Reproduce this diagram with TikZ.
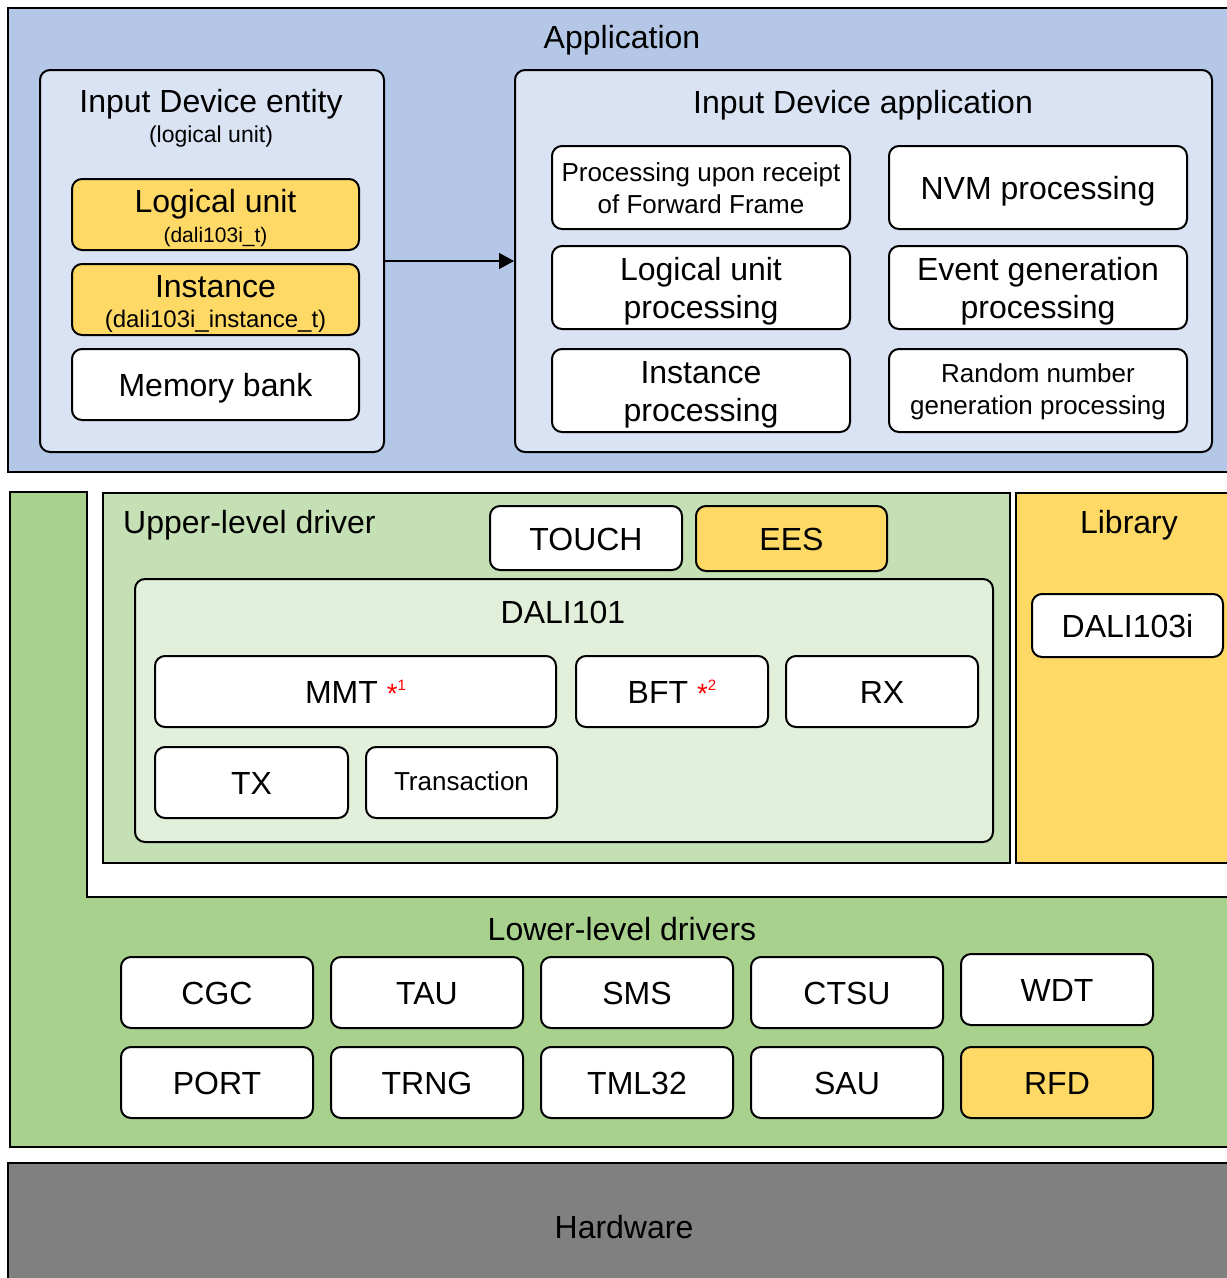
\documentclass[tikz,border=0pt]{standalone}
\usepackage{fontspec}
\setmainfont{Liberation Sans}
\usepackage{xcolor}
\usetikzlibrary{positioning,arrows.meta}
\definecolor{appblue}{HTML}{B4C7E7}
\definecolor{paleblue}{HTML}{DAE3F3}
\definecolor{libyellow}{HTML}{FFD966}
\definecolor{drvgreen}{HTML}{A9D18E}
\definecolor{uppergreen}{HTML}{C5E0B4}
\definecolor{daligreen}{HTML}{E2EFDA}
\definecolor{hwgrey}{HTML}{808080}
\newcommand{\lbl}{\fontsize{32}{38}\selectfont}
\newcommand{\sml}{\fontsize{26}{32}\selectfont}
\newcommand{\st}{\rule[-7pt]{0pt}{38pt}}
\newcommand{\sst}{\rule[-6pt]{0pt}{27pt}}
\newcommand{\note}[1]{\textcolor{red}{\fontsize{28}{28}\selectfont *\raisebox{13pt}{\fontsize{15}{15}\selectfont #1}}}

\tikzset{
  layer/.style={draw=black,line width=2.2pt,inner sep=0pt},
  group/.style={draw=black,line width=2pt,rounded corners=10pt,inner sep=0pt},
  module/.style={draw=black,line width=2pt,rounded corners=10pt,fill=white,
    align=center,inner sep=0pt,font=\lbl},
  title/.style={font=\lbl,inner sep=0pt}
}

\begin{document}
\begin{tikzpicture}[x=1pt,y=-1pt]
  \useasboundingbox (0,0) rectangle (1227,1278);
  \clip (0,0) rectangle (1227,1278);

  % Top: Application layer
  \node[layer,fill=appblue,minimum width=1232pt,minimum height=464pt] (applayer) at (624,240) {};
  \node[title] (apptitle) at (622,40) {Application};

  % Input Device entity
  \node[group,fill=paleblue,minimum width=344pt,minimum height=382pt] (entity) at (212,261) {};
  \node[title] (entitytitle) at (211,104) {Input Device entity};
  \node[inner sep=0pt,font=\fontsize{23}{26}\selectfont] (entitysub) at (211,137) {(logical unit)};
  \node[module,fill=libyellow,minimum width=287pt,minimum height=71pt] (lunit) at (215.5,214.5)
    {\st Logical unit\\[-8pt]{\fontsize{21}{24}\selectfont (dali103i\_t)}};
  \node[module,fill=libyellow,minimum width=287pt,minimum height=71pt] (inst) at (215.5,299.5)
    {\st Instance\\[-8pt]{\fontsize{24}{26}\selectfont (dali103i\_instance\_t)}};
  \node[module,minimum width=287pt,minimum height=71pt] (membank) at (215.5,384.5) {\st Memory bank};

  % Input Device application
  \node[group,fill=paleblue,minimum width=697pt,minimum height=382pt] (appbox) at (863.5,261) {};
  \node[title] (appboxtitle) at (863,105) {Input Device application};
  \node[module,font=\sml,minimum width=298pt,minimum height=83pt] (fwdproc) at (701,187.5)
    {\sst Processing upon receipt\\of Forward Frame};
  \node[module,minimum width=298pt,minimum height=83pt] (nvmproc) at (1038,187.5) {\st NVM processing};
  \node[module,minimum width=298pt,minimum height=83pt] (luproc) at (701,287.5) {\st Logical unit\\processing};
  \node[module,minimum width=298pt,minimum height=83pt] (evproc) at (1038,287.5) {\st Event generation\\processing};
  \node[module,minimum width=298pt,minimum height=83pt] (instproc) at (701,390.5) {\st Instance\\processing};
  \node[module,font=\sml,minimum width=298pt,minimum height=83pt] (rndproc) at (1038,390.5)
    {\sst Random number\\generation processing};

  % Arrow
  \draw[line width=1.4pt,-{Triangle[length=15pt,width=16pt]}] (entity.east) -- (appbox.west);

  % Middle: drivers (green L shape)
  \draw[line width=2.2pt,fill=drvgreen] (10,492) -- (87,492) -- (87,897) -- (1240,897)
    -- (1240,1147) -- (10,1147) -- cycle;

  % Upper-level driver
  \node[layer,fill=uppergreen,minimum width=907pt,minimum height=370pt] (upper) at (556.5,678) {};
  \node[title,anchor=west] (uppertitle) at (123,525) {Upper-level driver};
  \node[module,minimum width=192pt,minimum height=64pt] (touch) at (586,538) {\st TOUCH};
  \node[module,fill=libyellow,minimum width=191pt,minimum height=65pt] (ees) at (791.5,538.5) {\st EES};

  % DALI101
  \node[group,fill=daligreen,minimum width=858pt,minimum height=263pt] (dali) at (564,710.5) {};
  \node[title] (dalititle) at (563,612) {DALI101};
  \node[module,minimum width=401pt,minimum height=71pt] (mmt) at (355.5,691.5) {\st MMT \note{1}};
  \node[module,minimum width=192pt,minimum height=71pt] (bft) at (672,691.5) {\st BFT \note{2}};
  \node[module,minimum width=192pt,minimum height=71pt] (rx) at (882,691.5) {\st RX};
  \node[module,minimum width=193pt,minimum height=71pt] (tx) at (251.5,782.5) {\st TX};
  \node[module,font=\sml,minimum width=191pt,minimum height=71pt] (trans) at (461.5,782.5) {\sst Transaction};

  % Library
  \node[layer,fill=libyellow,minimum width=224pt,minimum height=370pt] (lib) at (1128,678) {};
  \node[title] (libtitle) at (1129,525) {Library};
  \node[module,minimum width=191pt,minimum height=63pt] (dali103i) at (1127.5,625.5) {\st DALI103i};

  % Lower-level drivers
  \node[title] (lowertitle) at (622,929) {Lower-level drivers};
  \node[module,minimum width=192pt,minimum height=71pt] (cgc) at (217,992.5) {\st CGC};
  \node[module,minimum width=192pt,minimum height=71pt] (tau) at (427,992.5) {\st TAU};
  \node[module,minimum width=192pt,minimum height=71pt] (sms) at (637,992.5) {\st SMS};
  \node[module,minimum width=192pt,minimum height=71pt] (ctsu) at (847,992.5) {\st CTSU};
  \node[module,minimum width=192pt,minimum height=71pt] (wdt) at (1057,989.5) {\st WDT};
  \node[module,minimum width=192pt,minimum height=71pt] (port) at (217,1082.5) {\st PORT};
  \node[module,minimum width=192pt,minimum height=71pt] (trng) at (427,1082.5) {\st TRNG};
  \node[module,minimum width=192pt,minimum height=71pt] (tml) at (637,1082.5) {\st TML32};
  \node[module,minimum width=192pt,minimum height=71pt] (sau) at (847,1082.5) {\st SAU};
  \node[module,fill=libyellow,minimum width=192pt,minimum height=71pt] (rfd) at (1057,1082.5) {\st RFD};

  % Bottom: Hardware
  \node[layer,fill=hwgrey,font=\lbl,minimum width=1232pt,minimum height=127pt] (hw) at (624,1226.5) {\st Hardware};
\end{tikzpicture}
\end{document}
